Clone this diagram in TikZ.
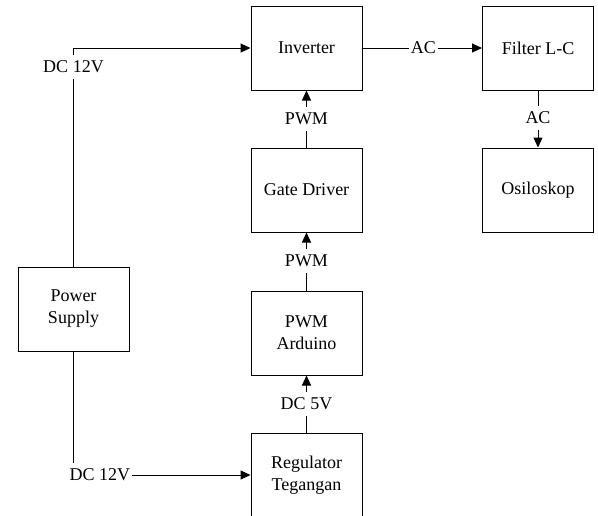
\documentclass[tikz,border=0pt]{standalone}
\usepackage{fontspec}
\setmainfont{Liberation Serif}
\usetikzlibrary{arrows.meta}
\begin{document}
\begin{tikzpicture}[x=1pt,y=-1pt,
  font=\fontsize{18}{22}\selectfont,
  blk/.style={draw, line width=1pt, minimum width=111pt, minimum height=84pt, align=center, inner sep=0pt},
  lbl/.style={inner xsep=1.5pt, inner ysep=6pt},
  con/.style={line width=1pt},
  arr/.style={con, -{Triangle[length=10pt,width=9pt]}}]
\clip (0,0) rectangle (598,515);
\useasboundingbox (0,0) rectangle (598,515);
\node[blk] (inv) at (306.5,48) {Inverter};
\node[blk] (fil) at (538,48) {Filter L-C};
\node[blk] (gate) at (306.5,190) {Gate Driver};
\node[blk] (osc) at (538,190) {Osiloskop};
\node[blk] (ard) at (306.5,333) {PWM\\Arduino};
\node[blk] (reg) at (306.5,475) {Regulator\\Tegangan};
\node[blk] (ps) at (73.5,309) {Power\\Supply};
\node[lbl] (dc1) at (73.5,67) {DC 12V};
\node[lbl] (ac1) at (423.5,48) {AC};
\node[lbl] (pwm1) at (306.5,119) {PWM};
\node[lbl] (pwm2) at (306.5,261) {PWM};
\node[lbl] (dc5) at (306.5,404) {DC 5V};
\node[lbl] (ac2) at (538,118) {AC};
\node[lbl] (dc2) at (100,475) {DC 12V};
\draw[con] (ps.north) -- (dc1.south);
\draw[arr] (dc1.north) |- (inv.west);
\draw[con] (ps.south) -- (ps.south |- dc2.north);
\draw[arr] (dc2.east) -- (reg.west);
\draw[con] (inv.east) -- (ac1.west);
\draw[arr] (ac1.east) -- (fil.west);
\draw[con] (fil.south) -- (ac2.north);
\draw[arr] (ac2.south) -- (osc.north);
\draw[con] (gate.north) -- (pwm1.south);
\draw[arr] (pwm1.north) -- (inv.south);
\draw[con] (ard.north) -- (pwm2.south);
\draw[arr] (pwm2.north) -- (gate.south);
\draw[con] (reg.north) -- (dc5.south);
\draw[arr] (dc5.north) -- (ard.south);
\end{tikzpicture}
\end{document}
